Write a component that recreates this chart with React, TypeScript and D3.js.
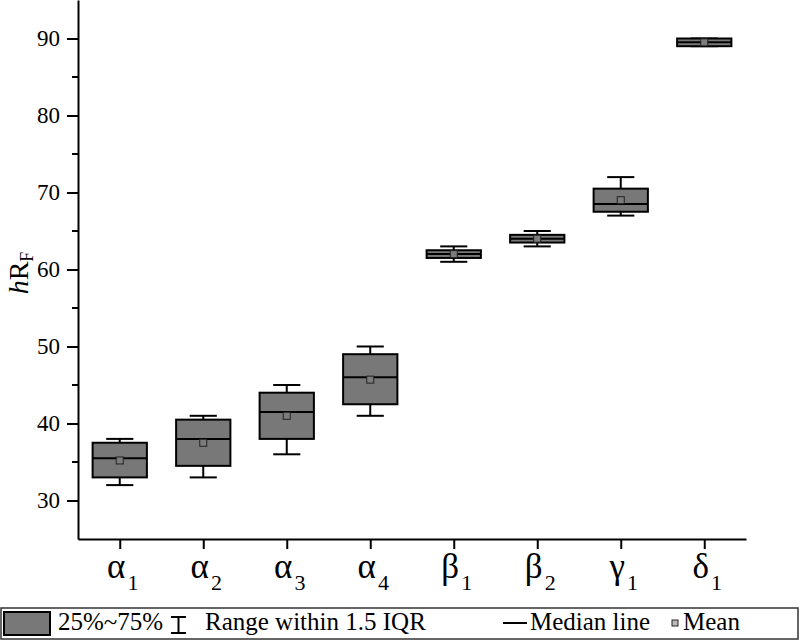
import { useEffect, useRef } from "react";
import * as d3 from "d3";

// category labels: greek letter + subscript
const letters = ["α", "α", "α", "α", "β", "β", "γ", "δ"];
const subs = ["1", "2", "3", "4", "1", "2", "1", "1"];

// box statistics per category
const whiskerLow = [32, 33, 36, 41, 61, 63, 67, 89];
const q1 = [33, 34.5, 38, 42.5, 61.5, 63.5, 67.5, 89];
const median = [35.5, 38, 41.5, 46, 62, 64, 68.5, 89.5];
const q3 = [37.5, 40.5, 44, 49, 62.5, 64.5, 70.5, 90];
const whiskerHigh = [38, 41, 45, 50, 63, 65, 72, 90];
const means = [35.2, 37.5, 41, 45.7, 62, 64, 69, 89.5];

const majorTicks = [30, 40, 50, 60, 70, 80, 90];
const minorTicks = [35, 45, 55, 65, 75, 85];

const FONT = "'Liberation Serif', 'Times New Roman', serif";
const BOX_FILL = "#787878";

export default function App() {
  const ref = useRef<SVGSVGElement>(null);

  useEffect(() => {
    document.body.style.margin = "0";
    const svg = d3.select(ref.current);
    svg.selectAll("*").remove();

    const left = 78,
      right = 746,
      top = 0,
      bottom = 539;

    const keys = letters.map((_, i) => String(i));
    const x = d3.scalePoint().domain(keys).range([left, right]).padding(0.5);
    const y = d3.scaleLinear().domain([25, 95]).range([bottom, top]);
    const boxW = x.step() * 0.65;
    const capW = boxW / 2;

    // y axis
    const yAxis = svg
      .append("g")
      .attr("transform", `translate(${left},0)`)
      .call(
        d3
          .axisLeft(y)
          .tickValues(majorTicks)
          .tickSize(11)
          .tickSizeOuter(0)
          .tickPadding(7)
      );
    yAxis.select(".domain").attr("stroke-width", 2);
    yAxis.selectAll(".tick line").attr("stroke-width", 2);
    yAxis
      .selectAll(".tick text")
      .attr("font-family", FONT)
      .attr("font-size", 23)
      .attr("fill", "#000");

    // minor ticks
    svg
      .append("g")
      .selectAll("line")
      .data(minorTicks)
      .enter()
      .append("line")
      .attr("x1", left - 6)
      .attr("x2", left)
      .attr("y1", (d) => y(d))
      .attr("y2", (d) => y(d))
      .attr("stroke", "#000")
      .attr("stroke-width", 2);

    // x axis
    const xAxis = svg
      .append("g")
      .attr("transform", `translate(0,${bottom})`)
      .call(d3.axisBottom(x).tickSize(10).tickSizeOuter(0).tickFormat(() => ""));
    xAxis.select(".domain").attr("stroke-width", 2);
    xAxis.selectAll(".tick line").attr("stroke-width", 2);

    const labels = svg
      .append("g")
      .selectAll("text")
      .data(keys)
      .enter()
      .append("text")
      .attr("x", (d) => x(d)! + 3)
      .attr("y", 578)
      .attr("text-anchor", "middle")
      .attr("font-family", FONT)
      .attr("font-size", 35);
    labels.append("tspan").text((d) => letters[+d]);
    labels
      .append("tspan")
      .attr("font-size", 22)
      .attr("dy", 12)
      .attr("dx", 2)
      .text((d) => subs[+d]);

    // y axis title
    const title = svg
      .append("text")
      .attr("transform", "translate(28,273) rotate(-90)")
      .attr("text-anchor", "middle")
      .attr("font-family", FONT)
      .attr("font-size", 28);
    title.append("tspan").attr("font-style", "italic").text("h");
    title.append("tspan").text("R");
    title.append("tspan").attr("font-size", 18).attr("dy", 5).text("F");

    // boxes
    const g = svg
      .append("g")
      .selectAll("g")
      .data(keys)
      .enter()
      .append("g");

    g.append("line")
      .attr("x1", (d) => x(d)!)
      .attr("x2", (d) => x(d)!)
      .attr("y1", (d) => y(whiskerHigh[+d]))
      .attr("y2", (d) => y(whiskerLow[+d]))
      .attr("stroke", "#000")
      .attr("stroke-width", 2);

    [whiskerHigh, whiskerLow].forEach((arr) => {
      g.append("line")
        .attr("x1", (d) => x(d)! - capW / 2)
        .attr("x2", (d) => x(d)! + capW / 2)
        .attr("y1", (d) => y(arr[+d]))
        .attr("y2", (d) => y(arr[+d]))
        .attr("stroke", "#000")
        .attr("stroke-width", 2);
    });

    g.append("rect")
      .attr("x", (d) => x(d)! - boxW / 2)
      .attr("width", boxW)
      .attr("y", (d) => y(q3[+d]))
      .attr("height", (d) => y(q1[+d]) - y(q3[+d]))
      .attr("fill", BOX_FILL)
      .attr("stroke", "#000")
      .attr("stroke-width", 2);

    g.append("line")
      .attr("x1", (d) => x(d)! - boxW / 2)
      .attr("x2", (d) => x(d)! + boxW / 2)
      .attr("y1", (d) => y(median[+d]))
      .attr("y2", (d) => y(median[+d]))
      .attr("stroke", "#000")
      .attr("stroke-width", 2);

    g.append("rect")
      .attr("x", (d) => x(d)! - 3.5)
      .attr("y", (d) => y(means[+d]) - 3.5)
      .attr("width", 7)
      .attr("height", 7)
      .attr("fill", "#7c7c7c")
      .attr("stroke", "#222")
      .attr("stroke-width", 1);

    // legend
    const lg = svg.append("g").attr("font-family", FONT).attr("font-size", 25);
    lg.append("rect")
      .attr("x", 1)
      .attr("y", 608)
      .attr("width", 797)
      .attr("height", 31)
      .attr("fill", "#fff")
      .attr("stroke", "#333")
      .attr("stroke-width", 1.5);
    lg.append("rect")
      .attr("x", 4)
      .attr("y", 612)
      .attr("width", 46)
      .attr("height", 23)
      .attr("fill", BOX_FILL)
      .attr("stroke", "#000")
      .attr("stroke-width", 2);
    lg.append("text").attr("x", 58).attr("y", 630).text("25%~75%");
    lg.append("path")
      .attr("d", "M171,617H186M178.5,617V633M171,633H186")
      .attr("stroke", "#000")
      .attr("stroke-width", 2)
      .attr("fill", "none");
    lg.append("text").attr("x", 205).attr("y", 630).text("Range within 1.5 IQR");
    lg.append("line")
      .attr("x1", 503)
      .attr("x2", 527)
      .attr("y1", 623)
      .attr("y2", 623)
      .attr("stroke", "#000")
      .attr("stroke-width", 2);
    lg.append("text").attr("x", 530).attr("y", 630).text("Median line");
    lg.append("rect")
      .attr("x", 672)
      .attr("y", 620)
      .attr("width", 6)
      .attr("height", 6)
      .attr("fill", "#bbb")
      .attr("stroke", "#222")
      .attr("stroke-width", 1);
    lg.append("text").attr("x", 683).attr("y", 630).text("Mean");
  }, []);

  return <svg ref={ref} width={800} height={640} style={{ display: "block" }} />;
}
